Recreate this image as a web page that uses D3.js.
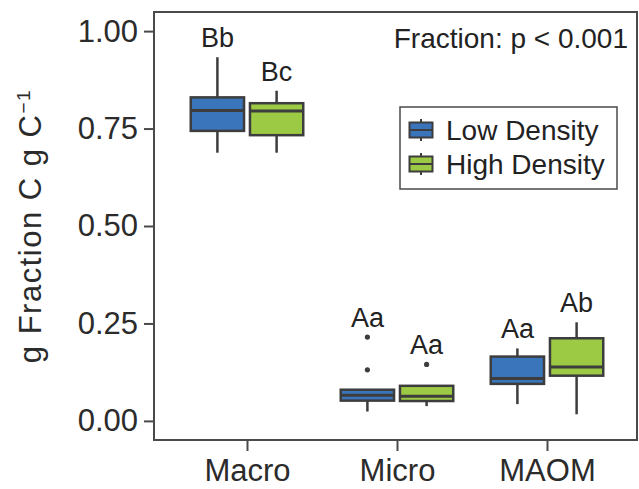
<!DOCTYPE html>
<html>
<head>
<meta charset="utf-8">
<script src="https://cdn.jsdelivr.net/npm/d3@7"></script>
<style>
  body { margin: 0; background: #fff; }
  text { font-family: "Liberation Sans", Arial, Helvetica, sans-serif; }
</style>
</head>
<body>
<div id="chart"></div>
<script>
// categories and groups
var fractions = ["Macro", "Micro", "MAOM"];
var groups = ["Low Density", "High Density"];

// box stats per fraction: [lower whisker, q1, median, q3, upper whisker]
var lowStats = [
    [0.688, 0.744, 0.796, 0.830, 0.933],
    [0.024, 0.052, 0.066, 0.080, 0.080],
    [0.043, 0.095, 0.109, 0.165, 0.186]
];
var highStats = [
    [0.688, 0.733, 0.795, 0.815, 0.847],
    [0.038, 0.051, 0.063, 0.090, 0.092],
    [0.017, 0.116, 0.138, 0.212, 0.253]
];
var lowOutliers = [[], [0.131, 0.215], []];
var highOutliers = [[], [0.145], []];

// significance letters
var lowLetters = ["Bb", "Aa", "Aa"];
var highLetters = ["Bc", "Aa", "Ab"];

var yTicks = [0, 0.25, 0.5, 0.75, 1];
var annotation = "Fraction: p < 0.001";

var colors = { "Low Density": "#3a75bc", "High Density": "#9dca44" };
var lineCol = "#3d3d3d";

var W = 639, H = 489;
var pLeft = 154, pRight = 637, pTop = 12, pBottom = 440;

var svg = d3.select("#chart").append("svg")
    .attr("width", W)
    .attr("height", H);

var x = d3.scalePoint()
    .domain(fractions)
    .range([157, pRight])
    .padding(0.6);

var dodge = d3.scaleBand()
    .domain(groups)
    .range([-x.step() * 0.375, x.step() * 0.375])
    .paddingInner(0.1);

var y = d3.scaleLinear()
    .domain([-0.049, 1.049])
    .range([pBottom, pTop]);

// panel border
svg.append("rect")
    .attr("x", pLeft).attr("y", pTop)
    .attr("width", pRight - pLeft).attr("height", pBottom - pTop)
    .attr("fill", "none")
    .attr("stroke", "#4a4a4a")
    .attr("stroke-width", 2);

// axes
var yAxis = svg.append("g")
    .attr("transform", "translate(" + pLeft + ",0)")
    .call(d3.axisLeft(y).tickValues(yTicks).tickFormat(d3.format(".2f")).tickSize(10).tickPadding(6));
var xAxis = svg.append("g")
    .attr("transform", "translate(0," + pBottom + ")")
    .call(d3.axisBottom(x).tickSize(11).tickPadding(8));

[yAxis, xAxis].forEach(function (a) {
    a.select(".domain").remove();
    a.selectAll(".tick line").attr("stroke", "#4a4a4a").attr("stroke-width", 2);
    a.selectAll(".tick text").attr("fill", "#2b2b2b").style("font-family", "Liberation Sans, Arial, sans-serif");
});
yAxis.selectAll(".tick text").attr("font-size", 31);
xAxis.selectAll(".tick text").attr("font-size", 31);

// y title
var yTitle = svg.append("text")
    .attr("transform", "translate(41," + ((pTop + pBottom) / 2) + ") rotate(-90)")
    .attr("text-anchor", "middle")
    .attr("font-size", 31)
    .attr("letter-spacing", 1.5)
    .attr("fill", "#2b2b2b");
yTitle.append("tspan").text("g Fraction C g C");
yTitle.append("tspan").attr("dy", -11).attr("font-size", 19).text("\u22121");

// build box records
var boxes = [];
fractions.forEach(function (f, i) {
    boxes.push({ frac: f, group: groups[0], s: lowStats[i], out: lowOutliers[i], letter: lowLetters[i] });
    boxes.push({ frac: f, group: groups[1], s: highStats[i], out: highOutliers[i], letter: highLetters[i] });
});

var bw = dodge.bandwidth();
var g = svg.selectAll("g.box")
    .data(boxes)
    .enter()
    .append("g")
    .attr("class", "box")
    .attr("transform", function (d) {
        return "translate(" + (x(d.frac) + dodge(d.group) + bw / 2) + ",0)";
    });

// whiskers
g.append("line")
    .attr("x1", 0).attr("x2", 0)
    .attr("y1", function (d) { return y(d.s[0]); })
    .attr("y2", function (d) { return y(d.s[1]); })
    .attr("stroke", lineCol).attr("stroke-width", 2.5);
g.append("line")
    .attr("x1", 0).attr("x2", 0)
    .attr("y1", function (d) { return y(d.s[3]); })
    .attr("y2", function (d) { return y(d.s[4]); })
    .attr("stroke", lineCol).attr("stroke-width", 2.5);

// boxes
g.append("rect")
    .attr("x", -bw / 2)
    .attr("width", bw)
    .attr("y", function (d) { return y(d.s[3]); })
    .attr("height", function (d) { return y(d.s[1]) - y(d.s[3]); })
    .attr("fill", function (d) { return colors[d.group]; })
    .attr("stroke", lineCol).attr("stroke-width", 2.5);

// medians
g.append("line")
    .attr("x1", -bw / 2).attr("x2", bw / 2)
    .attr("y1", function (d) { return y(d.s[2]); })
    .attr("y2", function (d) { return y(d.s[2]); })
    .attr("stroke", lineCol).attr("stroke-width", 3);

// outliers
g.selectAll("circle")
    .data(function (d) { return d.out; })
    .enter()
    .append("circle")
    .attr("cx", 0)
    .attr("cy", function (v) { return y(v); })
    .attr("r", 2.6)
    .attr("fill", lineCol);

// letters above the highest point
g.append("text")
    .attr("text-anchor", "middle")
    .attr("y", function (d) {
        var hi = d3.max(d.out.concat([d.s[4]]));
        return y(hi) - 10;
    })
    .attr("font-size", 27)
    .attr("fill", "#222")
    .text(function (d) { return d.letter; });

// annotation
svg.append("text")
    .attr("x", 628)
    .attr("y", 48)
    .attr("text-anchor", "end")
    .attr("font-size", 28)
    .attr("fill", "#222")
    .text(annotation);

// legend
var legend = svg.append("g").attr("transform", "translate(400,107)");
legend.append("rect")
    .attr("width", 217).attr("height", 82)
    .attr("fill", "#fff")
    .attr("stroke", "#4a4a4a").attr("stroke-width", 1.5);

var item = legend.selectAll("g.item")
    .data(groups)
    .enter()
    .append("g")
    .attr("class", "item")
    .attr("transform", function (d, i) { return "translate(21," + (23 + i * 34) + ")"; });

item.append("line")
    .attr("y1", -11).attr("y2", 11)
    .attr("stroke", lineCol).attr("stroke-width", 2);
item.append("rect")
    .attr("x", -11.5).attr("y", -7.5)
    .attr("width", 23).attr("height", 15)
    .attr("fill", function (d) { return colors[d]; })
    .attr("stroke", lineCol).attr("stroke-width", 2);
item.append("line")
    .attr("x1", -11.5).attr("x2", 11.5)
    .attr("stroke", lineCol).attr("stroke-width", 2);
item.append("text")
    .attr("x", 25)
    .attr("y", 10)
    .attr("font-size", 28)
    .attr("fill", "#222")
    .text(function (d) { return d; });
</script>
</body>
</html>
